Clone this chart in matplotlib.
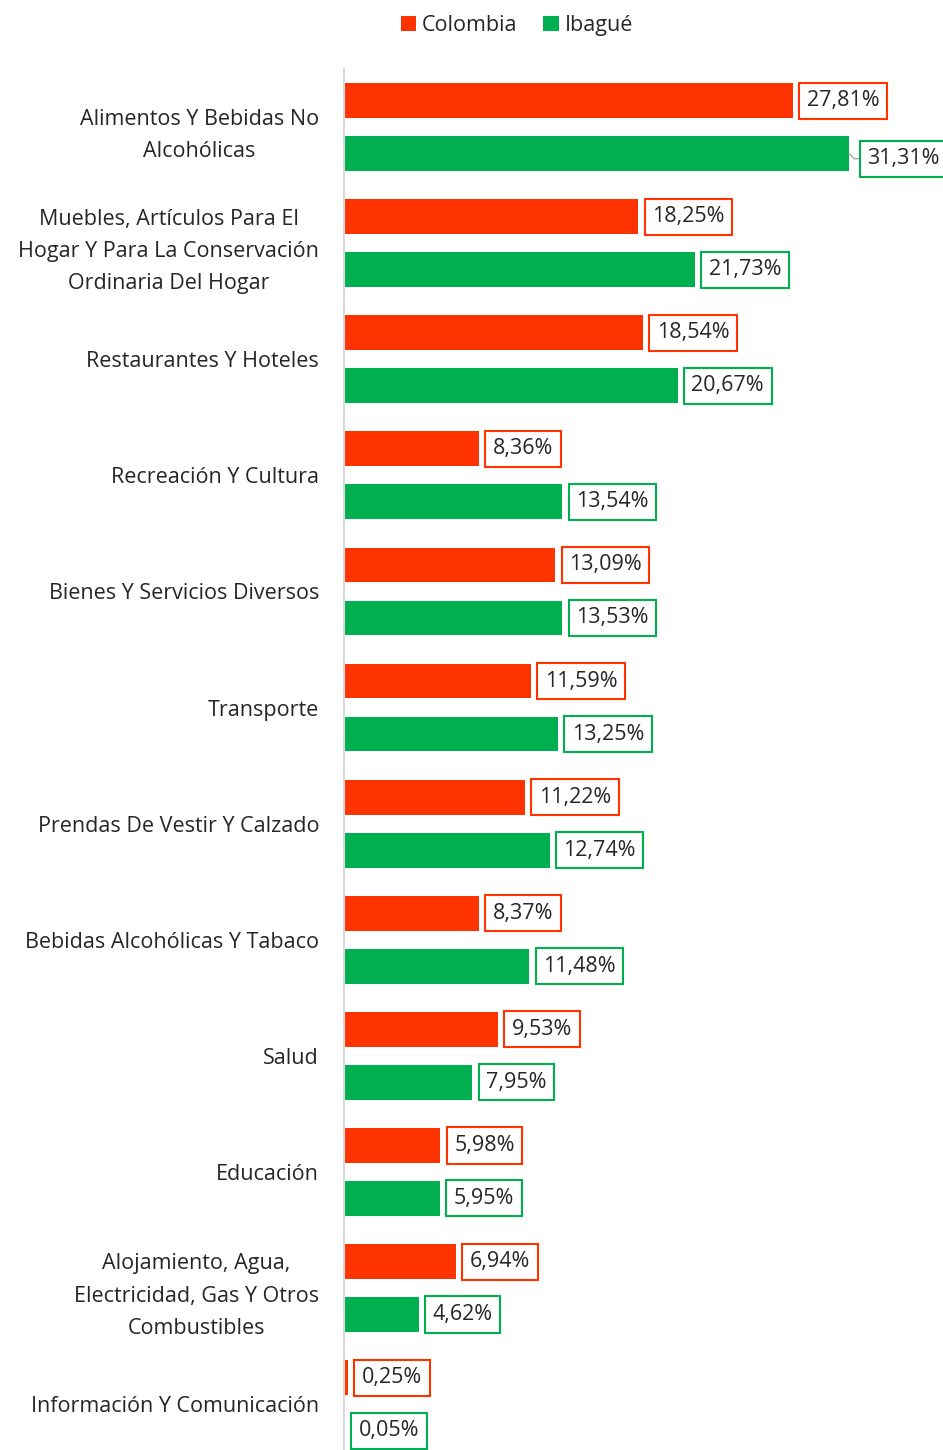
import matplotlib.pyplot as plt
import numpy as np

plt.rcParams['font.family'] = ['Open Sans', 'DejaVu Sans']

# data
categorias = ["Alimentos Y Bebidas No\nAlcohólicas",
              "Muebles, Artículos Para El\nHogar Y Para La Conservación\nOrdinaria Del Hogar",
              "Restaurantes Y Hoteles",
              "Recreación Y Cultura",
              "Bienes Y Servicios Diversos",
              "Transporte",
              "Prendas De Vestir Y Calzado",
              "Bebidas Alcohólicas Y Tabaco",
              "Salud",
              "Educación",
              "Alojamiento, Agua,\nElectricidad, Gas Y Otros\nCombustibles",
              "Información Y Comunicación"]
colombia = [27.81, 18.25, 18.54, 8.36, 13.09, 11.59, 11.22, 8.37, 9.53, 5.98, 6.94, 0.25]
ibague = [31.31, 21.73, 20.67, 13.54, 13.53, 13.25, 12.74, 11.48, 7.95, 5.95, 4.62, 0.05]

c_col = "#FF3300"
c_iba = "#00B050"
fs = 15.5

fig = plt.figure(figsize=(9.43, 14.5), dpi=100)
ax = fig.add_axes([344 / 943, 0, (941 - 344) / 943, (1450 - 69) / 1450])

y = np.arange(len(categorias))
h = 0.30
off = 0.228
ax.barh(y - off, colombia, height=h, color=c_col, label="Colombia")
ax.barh(y + off, ibague, height=h, color=c_iba, label="Ibagué")

ax.set_xlim(0, 37)
ax.set_ylim(11.395, -0.5)

def fmt(v):
    return f"{v:.2f}".replace(".", ",") + "%"

for i in range(len(categorias)):
    for vals, col, dy in ((colombia, c_col, -off), (ibague, c_iba, off)):
        v = vals[i]
        if i == 0 and vals is ibague:
            # label pushed to the right with a leader line
            ax.plot([v, v + 0.3, v + 0.7], [i + dy, i + dy + 0.045, i + dy + 0.045],
                    color="#A6A6A6", lw=1, zorder=1)
            ax.annotate(fmt(v), (v + 0.7, i + dy + 0.045), xytext=(5, 0),
                        textcoords="offset points", va="center", ha="left",
                        fontsize=fs, color="#262626",
                        bbox=dict(boxstyle="square,pad=0.35", fc="white", ec=col, lw=1.5))
        else:
            ax.annotate(fmt(v), (v, i + dy), xytext=(10, 0),
                        textcoords="offset points", va="center", ha="left",
                        fontsize=fs, color="#262626",
                        bbox=dict(boxstyle="square,pad=0.35", fc="white", ec=col, lw=1.5))

ax.set_yticks(y)
ax.set_yticklabels(categorias, fontsize=fs, color="#262626", multialignment="center",
                   linespacing=1.7)
ax.tick_params(axis="y", length=0, pad=18)
ax.set_xticks([])
for s in ["top", "right", "bottom"]:
    ax.spines[s].set_visible(False)
ax.spines["left"].set_color("#D9D9D9")
ax.spines["left"].set_linewidth(1.5)

fig.legend(loc="upper center", bbox_to_anchor=(517 / 943, 1.003), ncol=2, frameon=False,
           fontsize=fs, handlelength=0.7, handleheight=0.7, handletextpad=0.3,
           columnspacing=1.2, labelcolor="#262626")

fig.savefig("out.png", dpi=100)
